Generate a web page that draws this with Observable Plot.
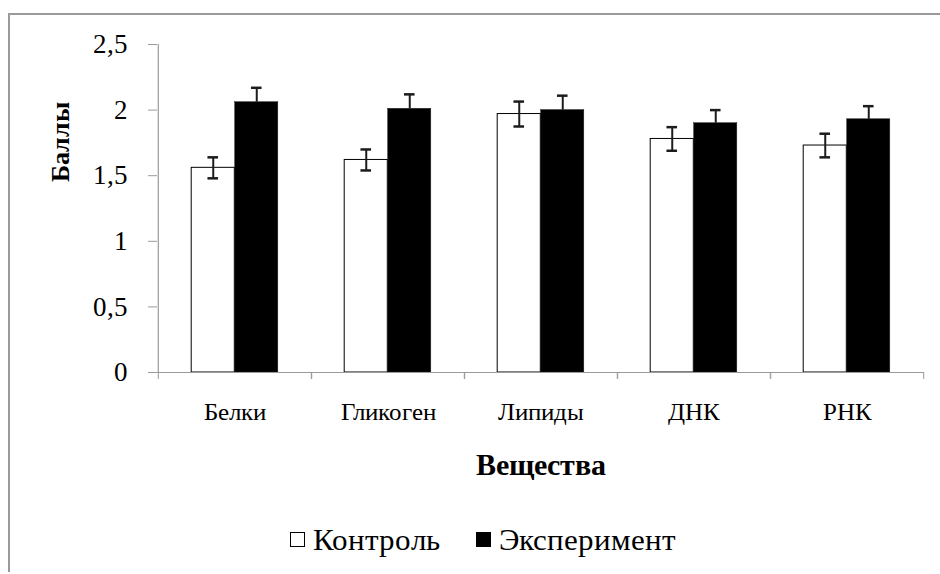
<!DOCTYPE html>
<html>
<head>
<meta charset="utf-8">
<script src="https://cdn.jsdelivr.net/npm/d3@7"></script>
<script src="https://cdn.jsdelivr.net/npm/@observablehq/plot@0.6"></script>
<style>
@font-face { font-family: 'RefSerif'; font-weight: 400; src: local('Liberation Serif'), local('LiberationSerif'), local('Times New Roman'), local('Tinos'); }
@font-face { font-family: 'RefSerif'; font-weight: 700; src: local('Liberation Serif Bold'), local('LiberationSerif-Bold'), local('Times New Roman Bold'), local('Tinos Bold'); }
body{margin:0;font-family:'RefSerif';background:#fff}
</style>
</head>
<body>
<div id="chart"></div>
<div id="legend" style="font-family:'RefSerif';font-size:31px;line-height:31px;height:74px;padding-left:290px;padding-top:24px;box-sizing:border-box;display:flex;align-items:flex-start"></div>
<div style="position:absolute;left:8px;top:13px;width:932px;height:0;border-top:2px solid #9a9a9a"></div>
<div style="position:absolute;left:8px;top:13px;width:0;height:559px;border-left:2px solid #9a9a9a"></div>
<script>
// ---- data ----
const categories = ["Белки", "Гликоген", "Липиды", "ДНК", "РНК"];
const seriesNames = ["Контроль", "Эксперимент"];
const controlValues = [1.56, 1.62, 1.97, 1.78, 1.73];
const controlErrors = [0.08, 0.08, 0.095, 0.09, 0.09];
const experimentValues = [2.06, 2.01, 2.00, 1.90, 1.93];
const experimentErrors = [0.11, 0.11, 0.11, 0.10, 0.10];
const yTickValues = [0, 0.5, 1, 1.5, 2, 2.5];
const yTitle = "Баллы";
const xTitle = "Вещества";

// ---- layout ----
const ff = "RefSerif";
const W = 940, H = 500;
const mL = 157, mR = 16, mT = 44, mB = 128;
const bw = (W - mL - mR) / categories.length;
const barW = 43.5;
const gp = (bw - 2 * barW) / 2;
const off = barW / 2;
const capW = 11;
const capIn = (bw - capW) / 2;

const control = categories.map((c, i) => ({cat: c, v: controlValues[i], lo: controlValues[i] - controlErrors[i], hi: controlValues[i] + controlErrors[i]}));
const experiment = categories.map((c, i) => ({cat: c, v: experimentValues[i], lo: experimentValues[i] - experimentErrors[i], hi: experimentValues[i] + experimentErrors[i]}));

const errStroke = "#1c1c1c";
const axisGray = "#9a9a9a";

const chart = Plot.plot({
  width: W, height: H,
  marginLeft: mL, marginRight: mR, marginTop: mT, marginBottom: mB,
  style: {fontFamily: ff},
  x: {type: "band", domain: categories, padding: 0, axis: null},
  y: {domain: [0, 2.5], axis: null},
  marks: [
    Plot.barY(control, {x: "cat", y: "v", fill: "#fff", stroke: "#000", strokeWidth: 1, insetLeft: gp, insetRight: bw - gp - barW}),
    Plot.barY(experiment, {x: "cat", y: "v", fill: "#000", stroke: "#222", strokeWidth: 0.5, insetLeft: gp + barW, insetRight: gp}),
    Plot.ruleY([0], {stroke: axisGray, strokeWidth: 1.2}),
    Plot.ruleX([categories[0]], {x: d => d, dx: -bw / 2, stroke: axisGray, strokeWidth: 1.2}),
    Plot.ruleX(control, {x: "cat", y1: "lo", y2: "hi", dx: -off, stroke: errStroke, strokeWidth: 2}),
    Plot.tickY(control, {x: "cat", y: "hi", dx: -off, insetLeft: capIn, insetRight: capIn, stroke: errStroke, strokeWidth: 2.5}),
    Plot.tickY(control, {x: "cat", y: "lo", dx: -off, insetLeft: capIn, insetRight: capIn, stroke: errStroke, strokeWidth: 2.5}),
    Plot.ruleX(experiment, {x: "cat", y1: "v", y2: "hi", dx: off, stroke: errStroke, strokeWidth: 2}),
    Plot.tickY(experiment, {x: "cat", y: "hi", dx: off, insetLeft: capIn, insetRight: capIn, stroke: errStroke, strokeWidth: 2.5}),
    Plot.axisY(yTickValues, {tickSize: 9, tickPadding: 21, tickFormat: d => String(d).replace(".", ","),
      fontSize: 27, fontFamily: ff, stroke: axisGray, fill: "#000", label: null}),
    Plot.axisX({tickSize: 0, tickPadding: 30, fontSize: 25, fontFamily: ff, fill: "#000", label: null}),
    Plot.axisX({tickSize: 7, tickFormat: () => "", dx: -bw / 2, stroke: axisGray, label: null}),
    Plot.axisX({tickSize: 7, tickFormat: () => "", dx: bw / 2, stroke: axisGray, label: null}),
    Plot.text([yTitle], {frameAnchor: "left", rotate: -90, dx: -97, dy: -67, fontWeight: "bold", fontSize: 26, fontFamily: ff, textAnchor: "middle", lineAnchor: "middle", fill: "#000"}),
    Plot.text([xTitle], {frameAnchor: "bottom", dy: 93, fontWeight: "bold", fontSize: 30, fontFamily: ff, textAnchor: "middle", lineAnchor: "middle", fill: "#000"})
  ]
});
document.getElementById("chart").appendChild(chart);

// ---- legend ----
const legend = document.getElementById("legend");
const swatchFill = ["#fff", "#000"];
seriesNames.forEach((name, i) => {
  const item = document.createElement("div");
  item.style.cssText = "display:flex;align-items:center;height:31px;color:#000;font-family:'RefSerif'" + (i > 0 ? ";margin-left:36px" : "");
  const sw = document.createElement("span");
  sw.style.cssText = "width:15px;height:15px;box-sizing:border-box;border:1px solid #000;margin-right:8px;background:" + swatchFill[i];
  const t = document.createElement("span");
  t.textContent = name;
  item.appendChild(sw);
  item.appendChild(t);
  legend.appendChild(item);
});
</script>
</body>
</html>
